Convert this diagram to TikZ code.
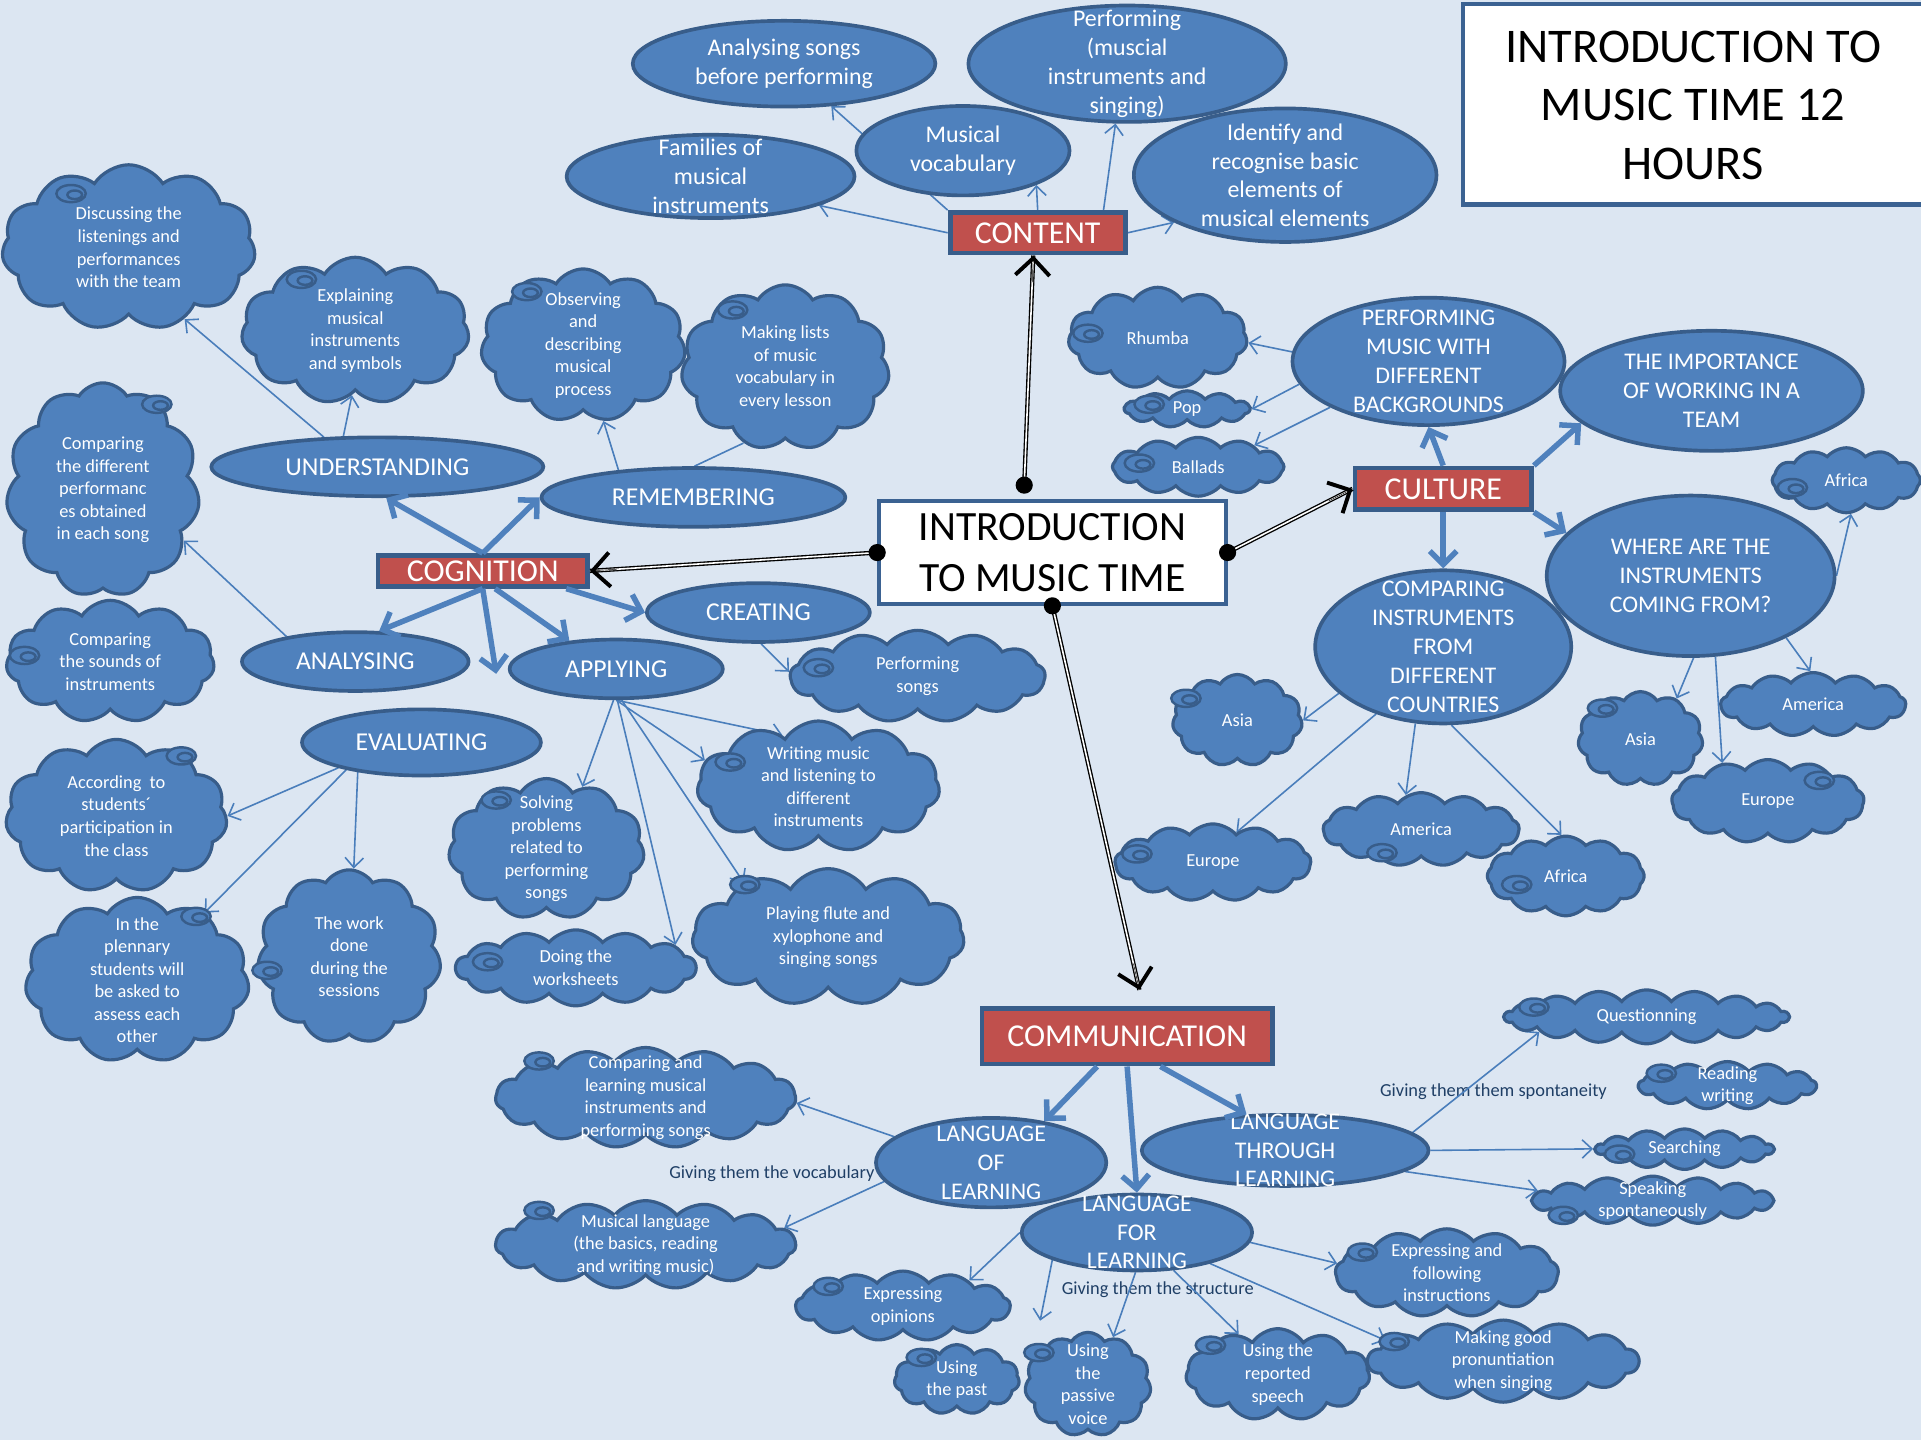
\documentclass[tikz,border=0pt]{standalone}
\usepackage{fontspec}
\setmainfont{Carlito}
\usetikzlibrary{shapes.geometric,shapes.symbols,arrows.meta,calc}

\definecolor{bgblue}{HTML}{DCE6F2}
\definecolor{nodeblue}{HTML}{4F81BD}
\definecolor{edgeblue}{HTML}{385D8A}
\definecolor{linkblue}{HTML}{4A7EBB}
\definecolor{catred}{HTML}{C0504D}
\definecolor{labelnavy}{HTML}{1F3F66}

\pgfdeclarelayer{bg}
\pgfdeclarelayer{lbl}
\pgfdeclarelayer{edges}
\pgfdeclarelayer{top}
\pgfsetlayers{bg,lbl,edges,main,top}

% shape node plus its centred caption
\newcommand\mapnode[8]{%
  \node[#1 shape,#2,minimum width=#6pt,minimum height=#7pt] (#3) at (#4,#5) {};
  \node[#1 text] (#3-t) at (#3.center) {#8};}
% small scroll drawn on a cloud
\newcommand\swirl[2]{%
  \draw[swirl] (#1,#2) ellipse (12pt and 7pt);
  \draw[swirl] (#1+3,#2+1) ellipse (6pt and 3.5pt);}

\tikzset{
  ell shape/.style={ellipse, fill=nodeblue, draw=edgeblue, line width=3pt, inner sep=0pt},
  ell text/.style={text=white, align=center, inner sep=0pt, font=\fontsize{19.5}{23.5}\selectfont},
  cog shape/.style={ell shape},
  cog text/.style={ell text, font=\fontsize{21}{25}\selectfont},
  cld shape/.style={cloud, cloud puffs=11, cloud puff arc=115, cloud ignores aspect,
    fill=nodeblue, draw=edgeblue, line width=2.6pt, inner sep=0pt},
  cld text/.style={text=white, align=center, inner sep=0pt, font=\fontsize{15}{18.4}\selectfont},
  wide/.style={cloud puffs=#1, cloud puff arc=100},
  catbox/.style={rectangle, fill=catred, draw=edgeblue, line width=4pt, inner sep=0pt,
    text=white, font=\fontsize{26}{30}\selectfont},
  whitebox/.style={rectangle, fill=white, draw=edgeblue!85!nodeblue, inner sep=0pt},
  swirl/.style={draw=edgeblue, line width=2pt, fill=nodeblue},
  lbltxt/.style={text=labelnavy, inner sep=0pt, font=\fontsize{15}{18}\selectfont},
  thin arrow/.style={draw=linkblue, line width=1.3pt, -{Straight Barb[length=8pt,width=15pt]}},
  thin link/.style={draw=linkblue, line width=1.3pt},
  thick arrow/.style={draw=nodeblue, line width=4.5pt, -{Straight Barb[length=11pt,width=22pt]}},
  dblk/.style={draw=black, double=white, line width=1.1pt, double distance=1.3pt},
  black head/.style={draw=black, line width=0.4pt,
    -{Straight Barb[length=14pt,width=28pt,line width=3.2pt]}},
}

\begin{document}
\begin{tikzpicture}[x=1pt,y=-1pt]
\useasboundingbox (0,0) rectangle (1568,1175);
\begin{pgfonlayer}{bg}
  \fill[bgblue] (0,0) rectangle (1568,1175);
\end{pgfonlayer}

% ---------- title and centre ----------
\node[whitebox, line width=3.5pt, minimum width=384pt, minimum height=164pt] (titlebox) at (1386,85) {};
\node[align=center, inner sep=0pt, font=\fontsize{39.5}{47.5}\selectfont] (title) at (1382,86)
  {INTRODUCTION TO\\MUSIC TIME 12\\HOURS};
\node[whitebox, line width=3pt, minimum width=283pt, minimum height=84pt, align=center,
  font=\fontsize{34}{41}\selectfont] (intro) at (859,451) {INTRODUCTION\\TO MUSIC TIME};

% ---------- category boxes ----------
\node[catbox, minimum width=143pt, minimum height=33pt] (content) at (847,190) {CONTENT};
\node[catbox, minimum width=171pt, minimum height=25pt] (cognition) at (394,466) {COGNITION};
\node[catbox, minimum width=144pt, minimum height=34pt] (culture) at (1178,399) {CULTURE};
\node[catbox, minimum width=237pt, minimum height=45pt] (comm) at (920,846) {COMMUNICATION};

% ---------- content ----------
\mapnode{ell}{}{ana}{640}{52}{247}{70}{Analysing songs\\before performing}
\mapnode{ell}{}{perf}{920}{52}{259}{95}{Performing\\(muscial\\instruments and\\singing)}
\mapnode{ell}{}{musvoc}{786}{123}{174}{73}{Musical\\vocabulary}
\mapnode{ell}{}{fam}{580}{144}{235}{68}{Families of\\musical\\instruments}
\mapnode{ell}{}{ident}{1049}{143}{247}{109}{Identify and\\recognise basic\\elements of\\musical elements}

% ---------- cognition ----------
\mapnode{cog}{}{und}{308}{381}{271}{48}{UNDERSTANDING}
\mapnode{cog}{}{rem}{566}{406}{248}{48}{REMEMBERING}
\mapnode{cog}{}{cre}{619}{500}{182}{48}{CREATING}
\mapnode{cog}{}{anl}{290}{540}{185}{48}{ANALYSING}
\mapnode{cog}{}{app}{503}{546}{174}{48}{APPLYING}
\mapnode{cog}{}{evl}{344}{606}{195}{54}{EVALUATING}

\mapnode{cld}{}{disc}{105}{202}{207}{135}{Discussing the\\listenings and\\performances\\with the team}
\mapnode{cld}{}{expl}{290}{270}{186}{120}{Explaining\\musical\\instruments\\and symbols}
\mapnode{cld}{}{obs}{476}{282}{167}{125}{Observing\\and\\describing\\musical\\process}
\mapnode{cld}{}{mkl}{641}{300}{170}{135}{Making lists\\of music\\vocabulary in\\every lesson}
\mapnode{cld}{}{cdp}{84}{400}{158}{175}{Comparing\\the different\\performanc\\es obtained\\in each song}
\mapnode{cld}{}{cso}{90}{540}{170}{100}{Comparing\\the sounds of\\instruments}
\mapnode{cld}{wide=13}{pso}{749}{552}{208}{75}{Performing\\songs}
\mapnode{cld}{}{acc}{95}{666}{181}{125}{According~ to\\students´\\participation in\\the class}
\mapnode{cld}{}{plen}{112}{800}{183}{135}{In the\\plennary\\students will\\be asked to\\assess each\\other}
\mapnode{cld}{}{work}{285}{781}{150}{142}{The work\\done\\during the\\sessions}
\mapnode{cld}{}{solv}{446}{693}{160}{115}{Solving\\problems\\related to\\performing\\songs}
\mapnode{cld}{wide=14}{doing}{470}{790}{196}{62}{Doing the\\worksheets}
\mapnode{cld}{}{writ}{668}{642}{198}{107}{Writing music\\and listening to\\different\\instruments}
\mapnode{cld}{}{play}{676}{765}{222}{112}{Playing flute and\\xylophone and\\singing songs}

% ---------- culture ----------
\mapnode{ell}{}{pmdb}{1166}{295}{222}{104}{PERFORMING\\MUSIC WITH\\DIFFERENT\\BACKGROUNDS}
\mapnode{ell}{}{team}{1397}{319}{247}{98}{THE IMPORTANCE\\OF WORKING IN A\\TEAM}
\mapnode{ell}{}{where}{1380}{470}{235}{131}{WHERE ARE THE\\INSTRUMENTS\\COMING FROM?}
\mapnode{ell}{}{cmpc}{1178}{528}{209}{125}{COMPARING\\INSTRUMENTS\\FROM\\DIFFERENT\\COUNTRIES}

\mapnode{cld}{}{rhu}{945}{276}{146}{83}{Rhumba}
\mapnode{cld}{wide=11}{pop}{969}{334}{102}{30}{Pop}
\mapnode{cld}{wide=12}{bal}{978}{381}{140}{48}{Ballads}
\mapnode{cld}{}{asl}{1010}{588}{106}{75}{Asia}
\mapnode{cld}{wide=13}{eul}{990}{704}{160}{63}{Europe}
\mapnode{cld}{wide=13}{aml}{1160}{677}{160}{60}{America}
\mapnode{cld}{wide=12}{afl}{1278}{715}{128}{65}{Africa}
\mapnode{cld}{wide=12}{afr}{1507}{392}{121}{53}{Africa}
\mapnode{cld}{}{asr}{1339}{603}{102}{77}{Asia}
\mapnode{cld}{wide=13}{amr}{1480}{575}{151}{52}{America}
\mapnode{cld}{wide=13}{eur}{1443}{654}{157}{68}{Europe}

% ---------- communication ----------
\mapnode{ell}{}{lof}{809}{949}{188}{73}{LANGUAGE\\OF\\LEARNING}
\mapnode{ell}{}{lthr}{1049}{939}{234}{58}{LANGUAGE\\THROUGH\\LEARNING}
\mapnode{ell}{}{lfor}{928}{1006}{188}{62}{LANGUAGE\\FOR\\LEARNING}

\mapnode{cld}{wide=15}{cal}{527}{896}{245}{82}{Comparing and\\learning musical\\instruments and\\performing songs}
\mapnode{cld}{wide=15}{mlang}{527}{1016}{245}{72}{Musical language\\(the basics, reading\\and writing music)}
\mapnode{cld}{wide=13}{eo}{737}{1066}{175}{57}{Expressing\\opinions}
\mapnode{cld}{}{upast}{781}{1126}{102}{57}{Using\\the past}
\mapnode{cld}{}{pas}{888}{1130}{103}{85}{Using\\the\\passive\\voice}
\mapnode{cld}{}{rep}{1043}{1122}{150}{75}{Using the\\reported\\speech}
\mapnode{cld}{wide=13}{ef}{1181}{1039}{182}{72}{Expressing and\\following\\instructions}
\mapnode{cld}{wide=14}{mg}{1227}{1111}{221}{67}{Making good\\pronuntiation\\when singing}
\mapnode{cld}{wide=18}{q}{1344}{830}{232}{44}{Questionning}
\mapnode{cld}{wide=13}{rw}{1410}{886}{145}{39}{Reading\\writing}
\mapnode{cld}{wide=14}{srch}{1375}{938}{145}{33}{Searching}
\mapnode{cld}{wide=16}{spk}{1349}{980}{198}{40}{Speaking\\spontaneously}

% ---------- scrolls on the clouds ----------
\swirl{58}{158}  \swirl{246}{228} \swirl{430}{238} \swirl{598}{253}
\swirl{128}{330} \swirl{20}{535}  \swirl{668}{545} \swirl{148}{617}
\swirl{160}{748} \swirl{218}{792} \swirl{405}{653} \swirl{398}{785}
\swirl{596}{622} \swirl{608}{722}
\swirl{888}{272} \swirl{938}{330} \swirl{930}{378} \swirl{968}{570}
\swirl{928}{697} \swirl{1128}{696} \swirl{1238}{722} \swirl{1463}{398}
\swirl{1308}{578} \swirl{1485}{637}
\swirl{440}{866} \swirl{440}{988} \swirl{676}{1050} \swirl{752}{1108}
\swirl{848}{1104} \swirl{988}{1098} \swirl{1112}{1022} \swirl{1138}{1095}
\swirl{1252}{822} \swirl{1356}{876} \swirl{1322}{942} \swirl{1276}{992}

% ---------- link captions ----------
\begin{pgfonlayer}{lbl}
  \node[lbltxt] (voc) at (630,958) {Giving them the vocabulary};
  \node[lbltxt] (spon) at (1219,891) {Giving them them spontaneity};
  \node[lbltxt] (struc) at (945,1053) {Giving them the structure};
\end{pgfonlayer}

% ---------- thin links ----------
\coordinate (pastend) at (849,1078);
\begin{pgfonlayer}{edges}
  \draw[thin arrow] (content.west) -- (fam.-15);
  \draw[thin arrow] (content.north west) -- (ana.-42);
  \draw[thin arrow] (content.north) -- (musvoc.-25);
  \draw[thin arrow] (content.19) -- (perf.-101);
  \draw[thin arrow] (content.east) -- (ident.203);

  \draw[thin arrow] (und.151) -- (disc.-52);
  \draw[thin arrow] (und.138) -- (expl.-93);
  \draw[thin arrow] (rem.160) -- (obs.-75);
  \draw[thin link] (rem.88) -- (mkl.-119);
  \draw[thin arrow] (anl.160) -- (cdp.-32);
  \draw[thin arrow] (cre.-85) -- (pso.178);
  \draw[thin arrow] (app.-95) -- (solv.60);
  \draw[thin arrow] (app.-88) -- (doing.13);
  \draw[thin arrow] (app.-80) -- (play.147);
  \draw[thin arrow] (app.-90) -- (writ.167);
  \draw[thin arrow] (app.-90) -- (writ.125);
  \draw[thin arrow] (evl.197) -- (acc.0);
  \draw[thin arrow] (evl.200) -- (plen.45);
  \draw[thin arrow] (evl.205) -- (work.87);

  \draw[thin arrow] (pmdb.176) -- (rhu.-3);
  \draw[thin arrow] (pmdb.190) -- (pop.0);
  \draw[thin arrow] (pmdb.205) -- (bal.21);
  \draw[thin arrow] (cmpc.204) -- (asl.0);
  \draw[thin arrow] (cmpc.225) -- (eul.52);
  \draw[thin arrow] (cmpc.-110) -- (aml.114);
  \draw[thin arrow] (cmpc.-84) -- (afl.96);
  \draw[thin arrow] (where.0) -- (afr.-82);
  \draw[thin arrow] (where.-88) -- (asr.48);
  \draw[thin arrow] (where.-33) -- (amr.95);
  \draw[thin arrow] (where.-73) -- (eur.140);

  \draw[thin arrow] (lof.165) -- (cal.-2);
  \draw[thin arrow] (lof.190) -- (mlang.7);
  \draw[thin arrow] (lthr.8) -- (q.188);
  \draw[thin arrow] (lthr.east) -- (srch.west);
  \draw[thin arrow] (lthr.-10) -- (spk.175);
  \draw[thin arrow] (lfor.180) -- (eo.21);
  \draw[thin arrow] (lfor.198) -- (pastend);
  \draw[thin arrow] (lfor.-92) -- (pas.62);
  \draw[thin arrow] (lfor.-46) -- (rep.134);
  \draw[thin arrow] (lfor.-23) -- (mg.170);
  \draw[thin arrow] (lfor.-5) -- (ef.175);
\end{pgfonlayer}

% ---------- thick links and main connectors ----------
\coordinate (cogdown) at (405,550);
\coordinate (ctop) at (836,396);
\coordinate (commtip) at (930,808);
\begin{pgfonlayer}{top}
  \draw[thick arrow] (cognition.north) -- (und.-74);
  \draw[thick arrow] (cognition.north) -- (rem.west);
  \draw[thick arrow] (cognition.-12) -- (cre.west);
  \draw[thick arrow] (cognition.south) -- (anl.52);
  \draw[thick arrow] (cognition.south) -- (cogdown);
  \draw[thick arrow] (cognition.-55) -- (app.149);

  \draw[thick arrow] (culture.north) -- (pmdb.south);
  \draw[thick arrow] (culture.north east) -- (team.194);
  \draw[thick arrow] (culture.south) -- (cmpc.north);
  \draw[thick arrow] (culture.south east) -- (where.161);

  \draw[thick arrow] (comm.-135) -- (lof.38);
  \draw[thick arrow] (comm.south) -- (lfor.north);
  \draw[thick arrow] (comm.-42) -- (lthr.137);

  \draw[dblk] (ctop) -- (content.-101);
  \draw[black head] ($(content.-101)!22pt!(ctop)$) -- (content.-101);
  \draw[dblk] (intro.west) -- (cognition.east);
  \draw[black head] ($(cognition.east)!22pt!(intro.west)$) -- (cognition.east);
  \draw[dblk] (intro.east) -- (culture.west);
  \draw[black head] ($(culture.west)!22pt!(intro.east)$) -- (culture.west);
  \draw[dblk] (intro.south) -- (commtip);
  \draw[black head] ($(commtip)!22pt!(intro.south)$) -- (commtip);

  \fill (ctop) circle (7pt);
  \fill (intro.west) circle (7pt);
  \fill (intro.east) circle (7pt);
  \fill (intro.south) circle (7pt);
\end{pgfonlayer}
\end{tikzpicture}
\end{document}
